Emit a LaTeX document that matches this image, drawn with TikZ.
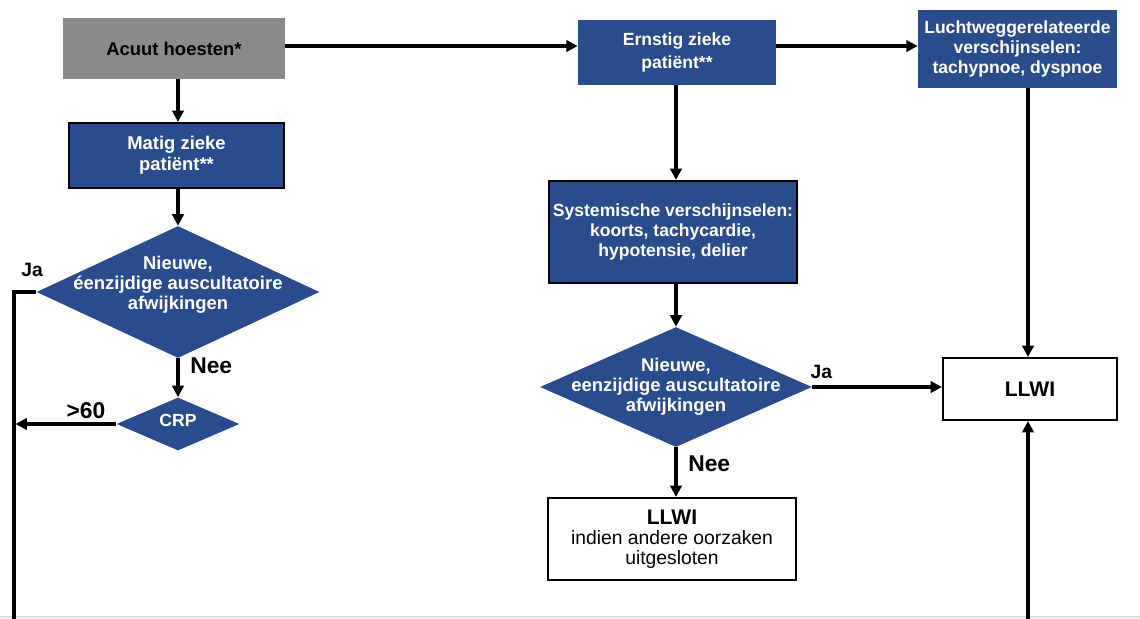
\documentclass[tikz,border=0pt]{standalone}
\usepackage{fontspec}
\setmainfont{Liberation Sans}
\usetikzlibrary{arrows.meta, shapes.geometric}
\definecolor{stepblue}{RGB}{43,76,140}
\definecolor{startgray}{RGB}{138,138,138}

\begin{document}
\begin{tikzpicture}[x=0.02cm, y=-0.02cm,
      box/.style  = {rectangle, inner sep=1pt, align=center,
                     font=\fontsize{10}{11.5}\selectfont\bfseries},
      bluebox/.style = {box, fill=stepblue, text=white},
      outbox/.style  = {box, draw, line width=1.2pt, fill=white},
      dia/.style  = {diamond, fill=stepblue, inner sep=0pt},
      dtxt/.style = {text=white, align=center,
                     font=\fontsize{10.5}{11.5}\selectfont\bfseries},
      arr/.style  = {-{Triangle[length=6.5pt, width=6.5pt]}, line width=2pt},
      line/.style = {line width=2pt},
      lbl/.style  = {font=\fontsize{11}{12}\selectfont\bfseries, inner sep=1pt},
      biglbl/.style = {lbl, font=\fontsize{13}{14}\selectfont\bfseries}
    ]
    \useasboundingbox (0,0) rectangle (1140,619);
    \draw[gray!25, line width=0.8pt] (0,617) -- (1140,617);

    % left column
    \node[box, fill=startgray, minimum width=4.44cm, minimum height=1.22cm,
          font=\fontsize{10.5}{12}\selectfont\bfseries]
          (acuut) at (174,48.5) {Acuut hoesten*};
    \node[bluebox, draw=black, line width=1.2pt, minimum width=4.30cm, minimum height=1.30cm,
          font=\fontsize{10.5}{12}\selectfont\bfseries]
          (matig) at (176.5,155.5) {Matig zieke\\patiënt**};
    \node[dia, minimum width=5.66cm, minimum height=2.64cm,
          label={[dtxt, yshift=4pt]center:Nieuwe,\\éenzijdige auscultatoire\\afwijkingen}]
          (q1) at (178,292) {};
    \node[dia, minimum width=2.46cm, minimum height=1.06cm,
          label={[dtxt, font=\fontsize{10}{11}\selectfont\bfseries, yshift=2pt]center:CRP}]
          (crp) at (178,424) {};
    \coordinate (low) at (14,619);

    % middle column
    \node[bluebox, minimum width=3.96cm, minimum height=1.30cm,
          font=\fontsize{10}{13}\selectfont\bfseries]
          (ernstig) at (677,52.5) {Ernstig zieke\\patiënt**};
    \node[bluebox, draw=black, line width=1.2pt, minimum width=4.96cm, minimum height=2.04cm]
          (sys) at (673,232) {Systemische verschijnselen:\\koorts, tachycardie,\\hypotensie, delier};
    \node[dia, minimum width=5.44cm, minimum height=2.40cm,
          label={[dtxt]center:Nieuwe,\\eenzijdige auscultatoire\\afwijkingen}]
          (q2) at (676,387) {};
    \node[outbox, minimum width=4.96cm, minimum height=1.64cm]
          (llwi2) at (672,539) {{\fontsize{12}{14}\selectfont LLWI}\\[0pt]
                                {\mdseries\fontsize{11}{12}\selectfont indien andere oorzaken}\\
                                {\mdseries\fontsize{11}{12}\selectfont uitgesloten}};

    % right column
    \node[bluebox, minimum width=3.98cm, minimum height=1.56cm]
          (lucht) at (1017.5,49) {Luchtweggerelateerde\\verschijnselen:\\tachypnoe, dyspnoe};
    \node[outbox, minimum width=3.48cm, minimum height=1.24cm,
          font=\fontsize{12}{14}\selectfont\bfseries]
          (llwi1) at (1030,389) {LLWI};
    \coordinate (up) at (1028,619);

    % connectors
    \draw[arr] (acuut.south -| q1.north) -- (matig.north -| q1.north);
    \draw[arr] (matig.south -| q1.north) -- (q1.north);
    \draw[arr] (q1.south) -- (crp.north) node[pos=0.2, right=5pt, biglbl]{Nee};
    \draw[line] (q1.west) -| (low) node[pos=0.09, above=7pt, lbl]{Ja};
    \draw[arr] (crp.west) -- (crp.west -| 15.5,0) node[pos=0.3, above=1pt, biglbl]{>60};

    \draw[arr] (285,46) -- (ernstig.west |- 0,46);
    \draw[arr] (ernstig.east |- 0,46) -- (lucht.west |- 0,46);
    \draw[arr] (ernstig.south -| q2.north) -- (sys.north -| q2.north);
    \draw[arr] (sys.south -| q2.north) -- (q2.north);
    \draw[arr] (q2.east) -- (llwi1.west |- q2.east) node[pos=0.07, above=3pt, lbl]{Ja};
    \draw[arr] (q2.south) -- (llwi2.north -| q2.south) node[pos=0.33, right=5pt, biglbl]{Nee};
    \draw[arr] (lucht.south -| up) -- (llwi1.north -| up);
    \draw[arr] (up) -- (llwi1.south -| up);
\end{tikzpicture}
\end{document}
